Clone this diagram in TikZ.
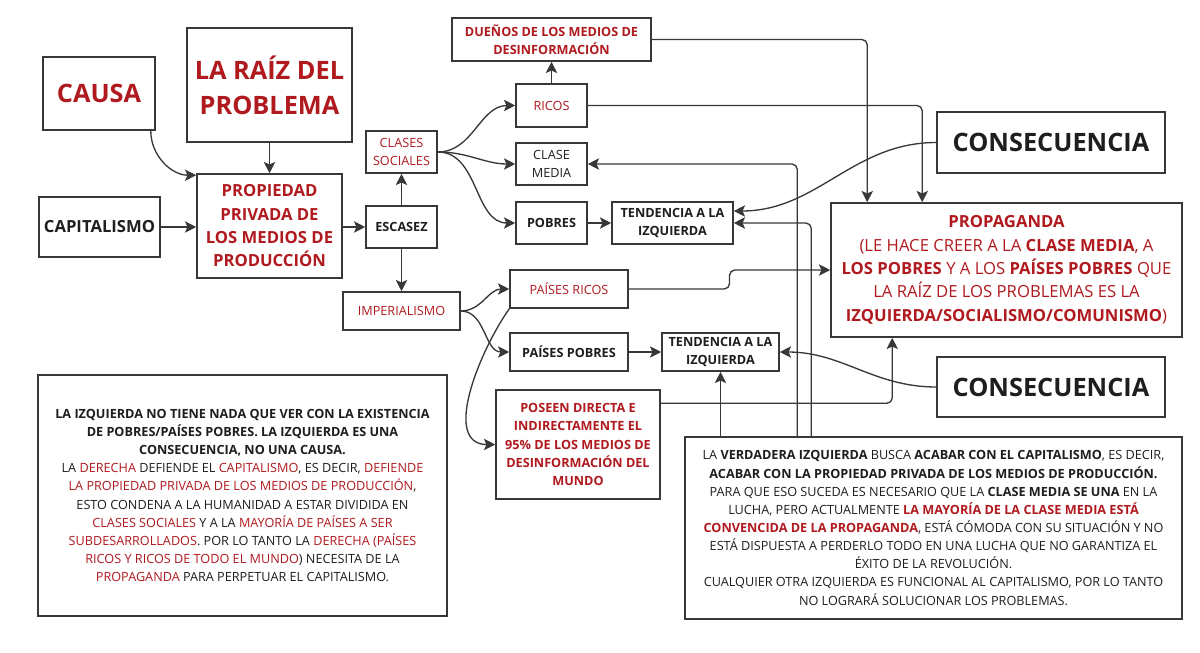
\documentclass[tikz,border=0pt]{standalone}
\usepackage{fontspec}
\setmainfont{Open Sans}
\usetikzlibrary{arrows.meta,calc}
\definecolor{rojo}{HTML}{B01A1F}
\definecolor{tinta}{HTML}{1E1E1E}
\definecolor{linea}{HTML}{383838}
\newcommand{\rojo}[1]{\textcolor{rojo}{#1}}

\begin{document}
\begin{tikzpicture}[x=0.75pt,y=-0.75pt,
  caja/.style={draw=linea,line width=1.15pt,inner sep=0pt,align=center,text=tinta},
  flecha/.style={draw=linea,line width=1pt,rounded corners=4pt,
    -{Stealth[length=8.5pt,width=8.5pt,inset=2pt]}},
  grande/.style={font=\fontsize{19}{26}\selectfont\bfseries},
  media/.style={font=\fontsize{12.5}{17.5}\selectfont\bfseries},
  chica/.style={font=\fontsize{9.5}{13.6}\selectfont},
  negrita/.style={font=\fontsize{9.5}{13.6}\selectfont\bfseries}]
  \fill[white] (0,0) rectangle (1200,653);
  \useasboundingbox (0,0) rectangle (1200,653);

  % Causa y raiz
  \node[caja,grande,text=rojo,minimum width=84pt,minimum height=54.75pt] (causa) at (99,93.5) {CAUSA};
  \node[caja,grande,text=rojo,minimum width=123.75pt,minimum height=85.5pt] (raiz) at (269.5,85) {LA RAÍZ DEL\\PROBLEMA};
  \node[caja,media,text=rojo,minimum width=108.75pt,minimum height=78pt] (prop) at (269.5,226) {PROPIEDAD\\PRIVADA DE\\LOS MEDIOS DE\\PRODUCCIÓN};
  \node[caja,media,minimum width=90.75pt,minimum height=45pt] (capital) at (99.5,227) {CAPITALISMO};
  \node[caja,negrita,minimum width=53.25pt,minimum height=31.5pt] (escasez) at (401.5,227) {ESCASEZ};
  \node[caja,chica,text=rojo,minimum width=53.25pt,minimum height=31.5pt] (clases) at (401.5,152) {CLASES\\SOCIALES};

  % Clases sociales
  \node[caja,negrita,text=rojo,minimum width=149.25pt,minimum height=32.25pt] (duenos) at (551.5,39.5) {DUEÑOS DE LOS MEDIOS DE\\DESINFORMACIÓN};
  \node[caja,chica,text=rojo,minimum width=53.25pt,minimum height=32.25pt] (ricos) at (551.5,105.5) {RICOS};
  \node[caja,chica,minimum width=53.25pt,minimum height=31.5pt] (media) at (551.5,164) {CLASE\\MEDIA};
  \node[caja,negrita,minimum width=53.25pt,minimum height=31.5pt] (pobres) at (551.5,223) {POBRES};
  \node[caja,negrita,minimum width=90.75pt,minimum height=31.5pt] (tendA) at (672.5,223) {TENDENCIA A LA\\IZQUIERDA};

  % Consecuencias y propaganda
  \node[caja,grande,minimum width=171pt,minimum height=45.75pt] (consA) at (1051,142.5) {CONSECUENCIA};
  \node[caja,text=rojo,font=\fontsize{12.5}{17.5}\selectfont,minimum width=263.25pt,minimum height=100.5pt] (propaganda) at (1006.5,270)
    {\textbf{PROPAGANDA}\\(LE HACE CREER A LA \textbf{CLASE MEDIA}, A\\\textbf{LOS POBRES} Y A LOS \textbf{PAÍSES POBRES} QUE\\LA RAÍZ DE LOS PROBLEMAS ES LA\\\textbf{IZQUIERDA/SOCIALISMO/COMUNISMO})};
  \node[caja,grande,minimum width=171pt,minimum height=45pt] (consB) at (1051,387) {CONSECUENCIA};

  % Imperialismo
  \node[caja,chica,text=rojo,minimum width=87.75pt,minimum height=28.5pt] (imper) at (401.5,311) {IMPERIALISMO};
  \node[caja,chica,text=rojo,minimum width=88.5pt,minimum height=28.5pt] (paisR) at (569,289) {PAÍSES RICOS};
  \node[caja,negrita,minimum width=88.5pt,minimum height=28.5pt] (paisP) at (569,352) {PAÍSES POBRES};
  \node[caja,negrita,minimum width=87.75pt,minimum height=28.5pt] (tendB) at (720.5,352) {TENDENCIA A LA\\IZQUIERDA};
  \node[caja,negrita,text=rojo,minimum width=123pt,minimum height=81.75pt] (poseen) at (578,444.5) {POSEEN DIRECTA E\\INDIRECTAMENTE EL\\95\% DE LOS MEDIOS DE\\DESINFORMACIÓN DEL\\MUNDO};

  % Notas
  \node[caja,chica,minimum width=306.75pt,minimum height=180.75pt] (notaI) at (242.5,495.5)
    {\textbf{LA IZQUIERDA NO TIENE NADA QUE VER CON LA EXISTENCIA}\\
     \textbf{DE POBRES/PAÍSES POBRES. LA IZQUIERDA ES UNA}\\
     \textbf{CONSECUENCIA, NO UNA CAUSA.}\\
     LA \rojo{DERECHA} DEFIENDE EL \rojo{CAPITALISMO}, ES DECIR, \rojo{DEFIENDE}\\
     \rojo{LA PROPIEDAD PRIVADA DE LOS MEDIOS DE PRODUCCIÓN},\\
     ESTO CONDENA A LA HUMANIDAD A ESTAR DIVIDIDA EN\\
     \rojo{CLASES SOCIALES} Y A LA \rojo{MAYORÍA DE PAÍSES A SER}\\
     \rojo{SUBDESARROLLADOS}. POR LO TANTO LA \rojo{DERECHA (PAÍSES}\\
     \rojo{RICOS Y RICOS DE TODO EL MUNDO}) NECESITA DE LA\\
     \rojo{PROPAGANDA} PARA PERPETUAR EL CAPITALISMO.};
  \node[caja,chica,minimum width=372.75pt,minimum height=136.5pt] (notaD) at (933.5,528)
    {LA \textbf{VERDADERA IZQUIERDA} BUSCA \textbf{ACABAR CON EL CAPITALISMO}, ES DECIR,\\
     \textbf{ACABAR CON LA PROPIEDAD PRIVADA DE LOS MEDIOS DE PRODUCCIÓN.}\\
     PARA QUE ESO SUCEDA ES NECESARIO QUE LA \textbf{CLASE MEDIA SE UNA} EN LA\\
     LUCHA, PERO ACTUALMENTE \textbf{\rojo{LA MAYORÍA DE LA CLASE MEDIA ESTÁ}}\\
     \textbf{\rojo{CONVENCIDA DE LA PROPAGANDA}}, ESTÁ CÓMODA CON SU SITUACIÓN Y NO\\
     ESTÁ DISPUESTA A PERDERLO TODO EN UNA LUCHA QUE NO GARANTIZA EL\\
     ÉXITO DE LA REVOLUCIÓN.\\
     CUALQUIER OTRA IZQUIERDA ES FUNCIONAL AL CAPITALISMO, POR LO TANTO\\
     NO LOGRARÁ SOLUCIONAR LOS PROBLEMAS.};

  % Flechas de la izquierda
  \draw[flecha] ($(causa.south east)+(-5,0)$) to[out=-90,in=180] ($(prop.north west)+(0,2)$);
  \draw[flecha] (raiz.south) -- (prop.north);
  \draw[flecha] (capital.east) -- (capital.east -| prop.west);
  \draw[flecha] (prop.east |- escasez) -- (escasez.west);
  \draw[flecha] (escasez.north) -- (clases.south);
  \draw[flecha] (escasez.south) -- (imper.north);

  % Flechas de las clases
  \foreach \c in {ricos,media,pobres}
    \draw[flecha] (clases.east) to[out=0,in=180] (\c.west);
  \draw[flecha] (ricos.north) -- (duenos.south);
  \draw[flecha] (pobres.east) -- (tendA.west);
  \draw[flecha] (duenos.east) -| ($(propaganda.north west)+(37,0)$);
  \draw[flecha] (ricos.east) -| ($(propaganda.north west)+(92,0)$);
  \draw[flecha] (consA.west) to[out=180,in=0] ($(tendA.east)+(0,-12)$);
  \draw[flecha] ($(notaD.north west)+(113,0)$) |- (media.east);
  \draw[flecha] ($(notaD.north west)+(127,0)$) |- (tendA.east);

  % Flechas del imperialismo
  \foreach \p in {paisR,paisP}
    \draw[flecha] (imper.east) to[out=0,in=180] (\p.west);
  \draw[flecha] (paisR.south west) to[out=-125,in=180] (poseen.west);
  \draw[flecha] (paisR.east) -| ($(paisR.east)!.5!(propaganda.west)$) |- (propaganda.west);
  \draw[flecha] (paisP.east) -- (tendB.west);
  \draw[flecha] (consB.west) to[out=180,in=0] (tendB.east);
  \draw[flecha] ($(poseen.north east)+(0,14)$) -| ($(propaganda.south west)+(62,0)$);
  \draw[flecha] (tendB.south |- notaD.north) -- (tendB.south);
\end{tikzpicture}
\end{document}
